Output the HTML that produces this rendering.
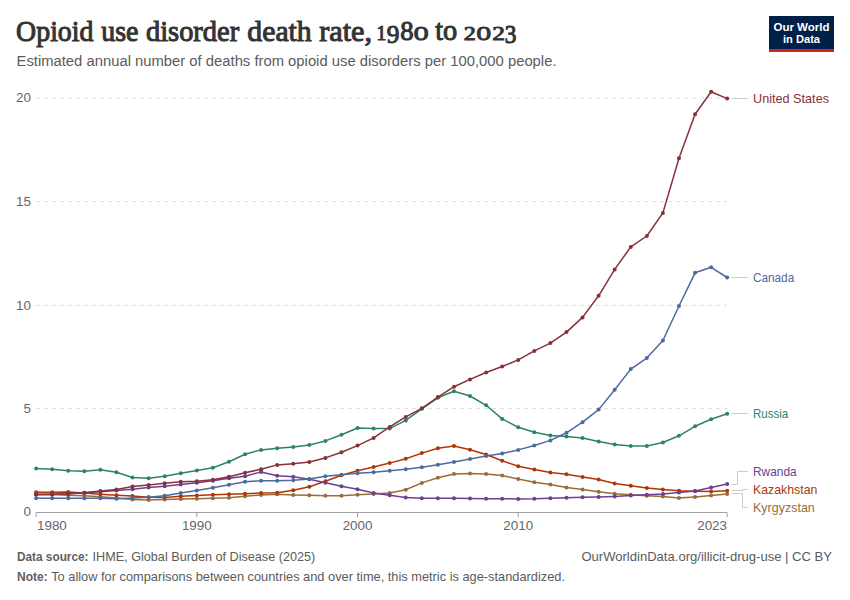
<!DOCTYPE html>
<html><head><meta charset="utf-8"><style>
html,body{margin:0;padding:0;background:#fff;}
body{width:850px;height:600px;overflow:hidden;position:relative;}
svg{position:absolute;left:0;top:0;}
text{font-family:"Liberation Sans",sans-serif;}
.ax{font-size:13.4px;fill:#666666;}
.lab{font-size:13.5px;}
.title{font-family:"Liberation Serif",serif;font-weight:normal;font-size:30px;fill:#333333;stroke:#333333;stroke-width:1px;}
.sub{font-size:14px;fill:#5b5b5b;}
.foot{font-size:13px;fill:#5b5b5b;}
.fb{font-weight:bold;fill:#5f5f5f;}
</style></head><body>
<svg width="850" height="600" viewBox="0 0 850 600">
<text class="title" style="stroke-width:1.04px" transform="matrix(0.9281 0 0 1 16.104 40.7)" x="0" y="0">Opioid</text><text class="title" style="stroke-width:1.04px" transform="matrix(0.9291 0 0 1 101.2 40.7)" x="0" y="0">use</text><text class="title" style="stroke-width:1.03px" transform="matrix(0.949 0 0 1 145.926 40.7)" x="0" y="0">disorder</text><text class="title" style="stroke-width:1.00px" transform="matrix(0.9922 0 0 1 247.304 40.7)" x="0" y="0">death</text><text class="title" style="stroke-width:1.00px" transform="matrix(1.0089 0 0 1 319.148 40.7)" x="0" y="0">rate,</text>
<text class="title" style="stroke-width:1.53px" transform="matrix(0.6435 0 0 0.6651 376.452 40.267)" x="0" y="0">1</text><text class="title" style="stroke-width:1.21px" transform="matrix(0.8436 0 0 0.8095 386.678 43.193)" x="0" y="0">9</text><text class="title" style="stroke-width:1.13px" transform="matrix(0.8889 0 0 0.88 400.133 39.94)" x="0" y="0">8</text><text class="title" style="stroke-width:1.04px" transform="matrix(1.0222 0 0 0.9049 413.433 39.921)" x="0" y="0">o</text><text class="title" style="stroke-width:1.05px" transform="matrix(0.9457 0 0 0.9639 435.236 39.877)" x="0" y="0">to</text><text class="title" style="stroke-width:1.39px" transform="matrix(0.8077 0 0 0.6313 463.794 39.584)" x="0" y="0">2</text><text class="title" style="stroke-width:1.05px" transform="matrix(1.0 0 0 0.9049 476.25 39.921)" x="0" y="0">o</text><text class="title" style="stroke-width:1.35px" transform="matrix(0.8462 0 0 0.6313 492.265 39.584)" x="0" y="0">2</text><text class="title" style="stroke-width:1.26px" transform="matrix(0.7774 0 0 0.8095 504.823 43.193)" x="0" y="0">3</text>
<text x="16.5" y="66.2" class="sub" textLength="540" lengthAdjust="spacingAndGlyphs">Estimated annual number of deaths from opioid use disorders per 100,000 people.</text>
<rect x="769" y="16" width="65" height="36" fill="#002147"/>
<rect x="769" y="49" width="65" height="3" fill="#ce261e"/>
<text x="801.5" y="31" text-anchor="middle" font-size="11.5" font-weight="bold" fill="#ffffff">Our World</text>
<text x="801.5" y="42.8" text-anchor="middle" font-size="11.5" font-weight="bold" fill="#ffffff" textLength="37" lengthAdjust="spacingAndGlyphs">in Data</text>
<line x1="36" y1="408.60" x2="727" y2="408.60" stroke="#dddddd" stroke-width="1" stroke-dasharray="4,4"/>
<text x="31" y="413.10" text-anchor="end" class="ax">5</text>
<line x1="36" y1="305.30" x2="727" y2="305.30" stroke="#dddddd" stroke-width="1" stroke-dasharray="4,4"/>
<text x="31" y="309.80" text-anchor="end" class="ax">10</text>
<line x1="36" y1="201.60" x2="727" y2="201.60" stroke="#dddddd" stroke-width="1" stroke-dasharray="4,4"/>
<text x="31" y="206.10" text-anchor="end" class="ax">15</text>
<line x1="36" y1="97.90" x2="727" y2="97.90" stroke="#dddddd" stroke-width="1" stroke-dasharray="4,4"/>
<text x="31" y="102.40" text-anchor="end" class="ax">20</text>
<text x="31" y="516.20" text-anchor="end" class="ax">0</text>
<line x1="36" y1="512.5" x2="727" y2="512.5" stroke="#a1a1a1" stroke-width="1"/>
<line x1="36.10" y1="512.5" x2="36.10" y2="517" stroke="#a1a1a1" stroke-width="1"/>
<line x1="196.82" y1="512.5" x2="196.82" y2="517" stroke="#a1a1a1" stroke-width="1"/>
<line x1="357.54" y1="512.5" x2="357.54" y2="517" stroke="#a1a1a1" stroke-width="1"/>
<line x1="518.26" y1="512.5" x2="518.26" y2="517" stroke="#a1a1a1" stroke-width="1"/>
<line x1="727.20" y1="512.5" x2="727.20" y2="517" stroke="#a1a1a1" stroke-width="1"/>
<text x="37" y="530.0" class="ax">1980</text>
<text x="196.82" y="530.0" text-anchor="middle" class="ax">1990</text>
<text x="357.54" y="530.0" text-anchor="middle" class="ax">2000</text>
<text x="518.26" y="530.0" text-anchor="middle" class="ax">2010</text>
<text x="727" y="530.0" text-anchor="end" class="ax">2023</text>
<polyline points="36.10,494.60 52.17,494.60 68.24,495.30 84.32,495.70 100.39,496.80 116.46,498.10 132.53,499.40 148.60,500.00 164.68,499.60 180.75,498.90 196.82,498.70 212.89,498.30 228.97,497.70 245.04,496.30 261.11,494.90 277.18,494.30 293.25,494.90 309.33,495.30 325.40,495.70 341.47,495.70 357.54,494.80 373.61,494.10 389.69,492.90 405.76,489.70 421.83,482.90 437.90,477.80 453.97,474.10 470.05,473.60 486.12,474.10 502.19,475.40 518.26,479.10 534.33,482.30 550.41,484.50 566.48,487.40 582.55,489.60 598.62,491.80 614.70,493.70 630.77,494.70 646.84,495.80 662.91,496.60 678.98,498.00 695.06,496.90 711.13,495.60 727.20,493.90" fill="none" stroke="#996D39" stroke-width="1.5" stroke-linejoin="round"/>
<circle cx="36.10" cy="494.60" r="2" fill="#996D39"/><circle cx="52.17" cy="494.60" r="2" fill="#996D39"/><circle cx="68.24" cy="495.30" r="2" fill="#996D39"/><circle cx="84.32" cy="495.70" r="2" fill="#996D39"/><circle cx="100.39" cy="496.80" r="2" fill="#996D39"/><circle cx="116.46" cy="498.10" r="2" fill="#996D39"/><circle cx="132.53" cy="499.40" r="2" fill="#996D39"/><circle cx="148.60" cy="500.00" r="2" fill="#996D39"/><circle cx="164.68" cy="499.60" r="2" fill="#996D39"/><circle cx="180.75" cy="498.90" r="2" fill="#996D39"/><circle cx="196.82" cy="498.70" r="2" fill="#996D39"/><circle cx="212.89" cy="498.30" r="2" fill="#996D39"/><circle cx="228.97" cy="497.70" r="2" fill="#996D39"/><circle cx="245.04" cy="496.30" r="2" fill="#996D39"/><circle cx="261.11" cy="494.90" r="2" fill="#996D39"/><circle cx="277.18" cy="494.30" r="2" fill="#996D39"/><circle cx="293.25" cy="494.90" r="2" fill="#996D39"/><circle cx="309.33" cy="495.30" r="2" fill="#996D39"/><circle cx="325.40" cy="495.70" r="2" fill="#996D39"/><circle cx="341.47" cy="495.70" r="2" fill="#996D39"/><circle cx="357.54" cy="494.80" r="2" fill="#996D39"/><circle cx="373.61" cy="494.10" r="2" fill="#996D39"/><circle cx="389.69" cy="492.90" r="2" fill="#996D39"/><circle cx="405.76" cy="489.70" r="2" fill="#996D39"/><circle cx="421.83" cy="482.90" r="2" fill="#996D39"/><circle cx="437.90" cy="477.80" r="2" fill="#996D39"/><circle cx="453.97" cy="474.10" r="2" fill="#996D39"/><circle cx="470.05" cy="473.60" r="2" fill="#996D39"/><circle cx="486.12" cy="474.10" r="2" fill="#996D39"/><circle cx="502.19" cy="475.40" r="2" fill="#996D39"/><circle cx="518.26" cy="479.10" r="2" fill="#996D39"/><circle cx="534.33" cy="482.30" r="2" fill="#996D39"/><circle cx="550.41" cy="484.50" r="2" fill="#996D39"/><circle cx="566.48" cy="487.40" r="2" fill="#996D39"/><circle cx="582.55" cy="489.60" r="2" fill="#996D39"/><circle cx="598.62" cy="491.80" r="2" fill="#996D39"/><circle cx="614.70" cy="493.70" r="2" fill="#996D39"/><circle cx="630.77" cy="494.70" r="2" fill="#996D39"/><circle cx="646.84" cy="495.80" r="2" fill="#996D39"/><circle cx="662.91" cy="496.60" r="2" fill="#996D39"/><circle cx="678.98" cy="498.00" r="2" fill="#996D39"/><circle cx="695.06" cy="496.90" r="2" fill="#996D39"/><circle cx="711.13" cy="495.60" r="2" fill="#996D39"/><circle cx="727.20" cy="493.90" r="2" fill="#996D39"/>
<polyline points="36.10,492.20 52.17,492.20 68.24,492.10 84.32,493.00 100.39,494.20 116.46,495.20 132.53,495.90 148.60,497.30 164.68,497.60 180.75,496.30 196.82,495.40 212.89,494.70 228.97,494.30 245.04,493.70 261.11,493.10 277.18,492.70 293.25,490.30 309.33,486.70 325.40,481.30 341.47,475.30 357.54,470.80 373.61,467.10 389.69,463.10 405.76,458.70 421.83,453.10 437.90,448.20 453.97,446.10 470.05,449.80 486.12,454.50 502.19,460.80 518.26,466.20 534.33,469.60 550.41,472.60 566.48,474.20 582.55,476.90 598.62,479.60 614.70,483.40 630.77,485.80 646.84,488.00 662.91,489.60 678.98,490.70 695.06,491.20 711.13,491.50 727.20,490.80" fill="none" stroke="#B13507" stroke-width="1.5" stroke-linejoin="round"/>
<circle cx="36.10" cy="492.20" r="2" fill="#B13507"/><circle cx="52.17" cy="492.20" r="2" fill="#B13507"/><circle cx="68.24" cy="492.10" r="2" fill="#B13507"/><circle cx="84.32" cy="493.00" r="2" fill="#B13507"/><circle cx="100.39" cy="494.20" r="2" fill="#B13507"/><circle cx="116.46" cy="495.20" r="2" fill="#B13507"/><circle cx="132.53" cy="495.90" r="2" fill="#B13507"/><circle cx="148.60" cy="497.30" r="2" fill="#B13507"/><circle cx="164.68" cy="497.60" r="2" fill="#B13507"/><circle cx="180.75" cy="496.30" r="2" fill="#B13507"/><circle cx="196.82" cy="495.40" r="2" fill="#B13507"/><circle cx="212.89" cy="494.70" r="2" fill="#B13507"/><circle cx="228.97" cy="494.30" r="2" fill="#B13507"/><circle cx="245.04" cy="493.70" r="2" fill="#B13507"/><circle cx="261.11" cy="493.10" r="2" fill="#B13507"/><circle cx="277.18" cy="492.70" r="2" fill="#B13507"/><circle cx="293.25" cy="490.30" r="2" fill="#B13507"/><circle cx="309.33" cy="486.70" r="2" fill="#B13507"/><circle cx="325.40" cy="481.30" r="2" fill="#B13507"/><circle cx="341.47" cy="475.30" r="2" fill="#B13507"/><circle cx="357.54" cy="470.80" r="2" fill="#B13507"/><circle cx="373.61" cy="467.10" r="2" fill="#B13507"/><circle cx="389.69" cy="463.10" r="2" fill="#B13507"/><circle cx="405.76" cy="458.70" r="2" fill="#B13507"/><circle cx="421.83" cy="453.10" r="2" fill="#B13507"/><circle cx="437.90" cy="448.20" r="2" fill="#B13507"/><circle cx="453.97" cy="446.10" r="2" fill="#B13507"/><circle cx="470.05" cy="449.80" r="2" fill="#B13507"/><circle cx="486.12" cy="454.50" r="2" fill="#B13507"/><circle cx="502.19" cy="460.80" r="2" fill="#B13507"/><circle cx="518.26" cy="466.20" r="2" fill="#B13507"/><circle cx="534.33" cy="469.60" r="2" fill="#B13507"/><circle cx="550.41" cy="472.60" r="2" fill="#B13507"/><circle cx="566.48" cy="474.20" r="2" fill="#B13507"/><circle cx="582.55" cy="476.90" r="2" fill="#B13507"/><circle cx="598.62" cy="479.60" r="2" fill="#B13507"/><circle cx="614.70" cy="483.40" r="2" fill="#B13507"/><circle cx="630.77" cy="485.80" r="2" fill="#B13507"/><circle cx="646.84" cy="488.00" r="2" fill="#B13507"/><circle cx="662.91" cy="489.60" r="2" fill="#B13507"/><circle cx="678.98" cy="490.70" r="2" fill="#B13507"/><circle cx="695.06" cy="491.20" r="2" fill="#B13507"/><circle cx="711.13" cy="491.50" r="2" fill="#B13507"/><circle cx="727.20" cy="490.80" r="2" fill="#B13507"/>
<polyline points="36.10,494.60 52.17,494.30 68.24,493.80 84.32,492.80 100.39,491.80 116.46,490.60 132.53,489.20 148.60,487.60 164.68,486.20 180.75,484.60 196.82,482.80 212.89,480.70 228.97,478.30 245.04,476.30 261.11,471.90 277.18,475.70 293.25,476.70 309.33,479.30 325.40,482.70 341.47,486.30 357.54,489.30 373.61,492.90 389.69,495.30 405.76,497.40 421.83,498.30 437.90,498.30 453.97,498.30 470.05,498.50 486.12,498.80 502.19,498.80 518.26,498.90 534.33,498.80 550.41,498.30 566.48,497.70 582.55,497.20 598.62,496.90 614.70,496.40 630.77,495.60 646.84,494.70 662.91,493.90 678.98,492.60 695.06,491.00 711.13,487.40 727.20,484.10" fill="none" stroke="#6D3E91" stroke-width="1.5" stroke-linejoin="round"/>
<circle cx="36.10" cy="494.60" r="2" fill="#6D3E91"/><circle cx="52.17" cy="494.30" r="2" fill="#6D3E91"/><circle cx="68.24" cy="493.80" r="2" fill="#6D3E91"/><circle cx="84.32" cy="492.80" r="2" fill="#6D3E91"/><circle cx="100.39" cy="491.80" r="2" fill="#6D3E91"/><circle cx="116.46" cy="490.60" r="2" fill="#6D3E91"/><circle cx="132.53" cy="489.20" r="2" fill="#6D3E91"/><circle cx="148.60" cy="487.60" r="2" fill="#6D3E91"/><circle cx="164.68" cy="486.20" r="2" fill="#6D3E91"/><circle cx="180.75" cy="484.60" r="2" fill="#6D3E91"/><circle cx="196.82" cy="482.80" r="2" fill="#6D3E91"/><circle cx="212.89" cy="480.70" r="2" fill="#6D3E91"/><circle cx="228.97" cy="478.30" r="2" fill="#6D3E91"/><circle cx="245.04" cy="476.30" r="2" fill="#6D3E91"/><circle cx="261.11" cy="471.90" r="2" fill="#6D3E91"/><circle cx="277.18" cy="475.70" r="2" fill="#6D3E91"/><circle cx="293.25" cy="476.70" r="2" fill="#6D3E91"/><circle cx="309.33" cy="479.30" r="2" fill="#6D3E91"/><circle cx="325.40" cy="482.70" r="2" fill="#6D3E91"/><circle cx="341.47" cy="486.30" r="2" fill="#6D3E91"/><circle cx="357.54" cy="489.30" r="2" fill="#6D3E91"/><circle cx="373.61" cy="492.90" r="2" fill="#6D3E91"/><circle cx="389.69" cy="495.30" r="2" fill="#6D3E91"/><circle cx="405.76" cy="497.40" r="2" fill="#6D3E91"/><circle cx="421.83" cy="498.30" r="2" fill="#6D3E91"/><circle cx="437.90" cy="498.30" r="2" fill="#6D3E91"/><circle cx="453.97" cy="498.30" r="2" fill="#6D3E91"/><circle cx="470.05" cy="498.50" r="2" fill="#6D3E91"/><circle cx="486.12" cy="498.80" r="2" fill="#6D3E91"/><circle cx="502.19" cy="498.80" r="2" fill="#6D3E91"/><circle cx="518.26" cy="498.90" r="2" fill="#6D3E91"/><circle cx="534.33" cy="498.80" r="2" fill="#6D3E91"/><circle cx="550.41" cy="498.30" r="2" fill="#6D3E91"/><circle cx="566.48" cy="497.70" r="2" fill="#6D3E91"/><circle cx="582.55" cy="497.20" r="2" fill="#6D3E91"/><circle cx="598.62" cy="496.90" r="2" fill="#6D3E91"/><circle cx="614.70" cy="496.40" r="2" fill="#6D3E91"/><circle cx="630.77" cy="495.60" r="2" fill="#6D3E91"/><circle cx="646.84" cy="494.70" r="2" fill="#6D3E91"/><circle cx="662.91" cy="493.90" r="2" fill="#6D3E91"/><circle cx="678.98" cy="492.60" r="2" fill="#6D3E91"/><circle cx="695.06" cy="491.00" r="2" fill="#6D3E91"/><circle cx="711.13" cy="487.40" r="2" fill="#6D3E91"/><circle cx="727.20" cy="484.10" r="2" fill="#6D3E91"/>
<polyline points="36.10,468.60 52.17,469.20 68.24,470.80 84.32,471.30 100.39,469.80 116.46,472.20 132.53,477.50 148.60,478.20 164.68,476.30 180.75,473.30 196.82,470.50 212.89,467.70 228.97,461.70 245.04,454.30 261.11,449.90 277.18,448.30 293.25,446.90 309.33,444.90 325.40,440.90 341.47,434.70 357.54,428.00 373.61,428.60 389.69,428.60 405.76,420.40 421.83,408.80 437.90,397.80 453.97,391.30 470.05,396.00 486.12,405.30 502.19,418.90 518.26,427.30 534.33,432.20 550.41,435.50 566.48,436.60 582.55,437.90 598.62,441.40 614.70,444.40 630.77,446.00 646.84,446.00 662.91,442.50 678.98,435.80 695.06,426.30 711.13,419.30 727.20,413.80" fill="none" stroke="#2C8465" stroke-width="1.5" stroke-linejoin="round"/>
<circle cx="36.10" cy="468.60" r="2" fill="#2C8465"/><circle cx="52.17" cy="469.20" r="2" fill="#2C8465"/><circle cx="68.24" cy="470.80" r="2" fill="#2C8465"/><circle cx="84.32" cy="471.30" r="2" fill="#2C8465"/><circle cx="100.39" cy="469.80" r="2" fill="#2C8465"/><circle cx="116.46" cy="472.20" r="2" fill="#2C8465"/><circle cx="132.53" cy="477.50" r="2" fill="#2C8465"/><circle cx="148.60" cy="478.20" r="2" fill="#2C8465"/><circle cx="164.68" cy="476.30" r="2" fill="#2C8465"/><circle cx="180.75" cy="473.30" r="2" fill="#2C8465"/><circle cx="196.82" cy="470.50" r="2" fill="#2C8465"/><circle cx="212.89" cy="467.70" r="2" fill="#2C8465"/><circle cx="228.97" cy="461.70" r="2" fill="#2C8465"/><circle cx="245.04" cy="454.30" r="2" fill="#2C8465"/><circle cx="261.11" cy="449.90" r="2" fill="#2C8465"/><circle cx="277.18" cy="448.30" r="2" fill="#2C8465"/><circle cx="293.25" cy="446.90" r="2" fill="#2C8465"/><circle cx="309.33" cy="444.90" r="2" fill="#2C8465"/><circle cx="325.40" cy="440.90" r="2" fill="#2C8465"/><circle cx="341.47" cy="434.70" r="2" fill="#2C8465"/><circle cx="357.54" cy="428.00" r="2" fill="#2C8465"/><circle cx="373.61" cy="428.60" r="2" fill="#2C8465"/><circle cx="389.69" cy="428.60" r="2" fill="#2C8465"/><circle cx="405.76" cy="420.40" r="2" fill="#2C8465"/><circle cx="421.83" cy="408.80" r="2" fill="#2C8465"/><circle cx="437.90" cy="397.80" r="2" fill="#2C8465"/><circle cx="453.97" cy="391.30" r="2" fill="#2C8465"/><circle cx="470.05" cy="396.00" r="2" fill="#2C8465"/><circle cx="486.12" cy="405.30" r="2" fill="#2C8465"/><circle cx="502.19" cy="418.90" r="2" fill="#2C8465"/><circle cx="518.26" cy="427.30" r="2" fill="#2C8465"/><circle cx="534.33" cy="432.20" r="2" fill="#2C8465"/><circle cx="550.41" cy="435.50" r="2" fill="#2C8465"/><circle cx="566.48" cy="436.60" r="2" fill="#2C8465"/><circle cx="582.55" cy="437.90" r="2" fill="#2C8465"/><circle cx="598.62" cy="441.40" r="2" fill="#2C8465"/><circle cx="614.70" cy="444.40" r="2" fill="#2C8465"/><circle cx="630.77" cy="446.00" r="2" fill="#2C8465"/><circle cx="646.84" cy="446.00" r="2" fill="#2C8465"/><circle cx="662.91" cy="442.50" r="2" fill="#2C8465"/><circle cx="678.98" cy="435.80" r="2" fill="#2C8465"/><circle cx="695.06" cy="426.30" r="2" fill="#2C8465"/><circle cx="711.13" cy="419.30" r="2" fill="#2C8465"/><circle cx="727.20" cy="413.80" r="2" fill="#2C8465"/>
<polyline points="36.10,498.20 52.17,498.20 68.24,498.20 84.32,498.20 100.39,498.30 116.46,498.70 132.53,498.10 148.60,497.30 164.68,495.70 180.75,493.10 196.82,490.60 212.89,487.70 228.97,484.70 245.04,481.70 261.11,480.70 277.18,480.70 293.25,480.30 309.33,478.90 325.40,476.30 341.47,474.70 357.54,473.20 373.61,472.20 389.69,470.80 405.76,469.20 421.83,467.30 437.90,464.70 453.97,461.90 470.05,458.90 486.12,456.10 502.19,453.50 518.26,449.90 534.33,445.50 550.41,440.40 566.48,432.80 582.55,422.20 598.62,409.60 614.70,389.80 630.77,369.10 646.84,358.05 662.91,340.55 678.98,306.05 695.06,272.80 711.13,267.30 727.20,277.50" fill="none" stroke="#4C6A9C" stroke-width="1.5" stroke-linejoin="round"/>
<circle cx="36.10" cy="498.20" r="2" fill="#4C6A9C"/><circle cx="52.17" cy="498.20" r="2" fill="#4C6A9C"/><circle cx="68.24" cy="498.20" r="2" fill="#4C6A9C"/><circle cx="84.32" cy="498.20" r="2" fill="#4C6A9C"/><circle cx="100.39" cy="498.30" r="2" fill="#4C6A9C"/><circle cx="116.46" cy="498.70" r="2" fill="#4C6A9C"/><circle cx="132.53" cy="498.10" r="2" fill="#4C6A9C"/><circle cx="148.60" cy="497.30" r="2" fill="#4C6A9C"/><circle cx="164.68" cy="495.70" r="2" fill="#4C6A9C"/><circle cx="180.75" cy="493.10" r="2" fill="#4C6A9C"/><circle cx="196.82" cy="490.60" r="2" fill="#4C6A9C"/><circle cx="212.89" cy="487.70" r="2" fill="#4C6A9C"/><circle cx="228.97" cy="484.70" r="2" fill="#4C6A9C"/><circle cx="245.04" cy="481.70" r="2" fill="#4C6A9C"/><circle cx="261.11" cy="480.70" r="2" fill="#4C6A9C"/><circle cx="277.18" cy="480.70" r="2" fill="#4C6A9C"/><circle cx="293.25" cy="480.30" r="2" fill="#4C6A9C"/><circle cx="309.33" cy="478.90" r="2" fill="#4C6A9C"/><circle cx="325.40" cy="476.30" r="2" fill="#4C6A9C"/><circle cx="341.47" cy="474.70" r="2" fill="#4C6A9C"/><circle cx="357.54" cy="473.20" r="2" fill="#4C6A9C"/><circle cx="373.61" cy="472.20" r="2" fill="#4C6A9C"/><circle cx="389.69" cy="470.80" r="2" fill="#4C6A9C"/><circle cx="405.76" cy="469.20" r="2" fill="#4C6A9C"/><circle cx="421.83" cy="467.30" r="2" fill="#4C6A9C"/><circle cx="437.90" cy="464.70" r="2" fill="#4C6A9C"/><circle cx="453.97" cy="461.90" r="2" fill="#4C6A9C"/><circle cx="470.05" cy="458.90" r="2" fill="#4C6A9C"/><circle cx="486.12" cy="456.10" r="2" fill="#4C6A9C"/><circle cx="502.19" cy="453.50" r="2" fill="#4C6A9C"/><circle cx="518.26" cy="449.90" r="2" fill="#4C6A9C"/><circle cx="534.33" cy="445.50" r="2" fill="#4C6A9C"/><circle cx="550.41" cy="440.40" r="2" fill="#4C6A9C"/><circle cx="566.48" cy="432.80" r="2" fill="#4C6A9C"/><circle cx="582.55" cy="422.20" r="2" fill="#4C6A9C"/><circle cx="598.62" cy="409.60" r="2" fill="#4C6A9C"/><circle cx="614.70" cy="389.80" r="2" fill="#4C6A9C"/><circle cx="630.77" cy="369.10" r="2" fill="#4C6A9C"/><circle cx="646.84" cy="358.05" r="2" fill="#4C6A9C"/><circle cx="662.91" cy="340.55" r="2" fill="#4C6A9C"/><circle cx="678.98" cy="306.05" r="2" fill="#4C6A9C"/><circle cx="695.06" cy="272.80" r="2" fill="#4C6A9C"/><circle cx="711.13" cy="267.30" r="2" fill="#4C6A9C"/><circle cx="727.20" cy="277.50" r="2" fill="#4C6A9C"/>
<polyline points="36.10,494.50 52.17,494.40 68.24,493.80 84.32,492.80 100.39,490.90 116.46,489.40 132.53,486.50 148.60,484.90 164.68,483.20 180.75,481.70 196.82,481.30 212.89,479.70 228.97,476.70 245.04,472.70 261.11,469.30 277.18,464.90 293.25,463.70 309.33,461.90 325.40,457.90 341.47,452.30 357.54,445.60 373.61,437.90 389.69,426.90 405.76,416.90 421.83,408.30 437.90,397.10 453.97,386.70 470.05,379.40 486.12,372.50 502.19,366.50 518.26,359.90 534.33,350.90 550.41,343.10 566.48,332.10 582.55,317.40 598.62,295.80 614.70,269.40 630.77,246.90 646.84,236.00 662.91,212.90 678.98,158.30 695.06,114.20 711.13,91.70 727.20,98.60" fill="none" stroke="#883039" stroke-width="1.5" stroke-linejoin="round"/>
<circle cx="36.10" cy="494.50" r="2" fill="#883039"/><circle cx="52.17" cy="494.40" r="2" fill="#883039"/><circle cx="68.24" cy="493.80" r="2" fill="#883039"/><circle cx="84.32" cy="492.80" r="2" fill="#883039"/><circle cx="100.39" cy="490.90" r="2" fill="#883039"/><circle cx="116.46" cy="489.40" r="2" fill="#883039"/><circle cx="132.53" cy="486.50" r="2" fill="#883039"/><circle cx="148.60" cy="484.90" r="2" fill="#883039"/><circle cx="164.68" cy="483.20" r="2" fill="#883039"/><circle cx="180.75" cy="481.70" r="2" fill="#883039"/><circle cx="196.82" cy="481.30" r="2" fill="#883039"/><circle cx="212.89" cy="479.70" r="2" fill="#883039"/><circle cx="228.97" cy="476.70" r="2" fill="#883039"/><circle cx="245.04" cy="472.70" r="2" fill="#883039"/><circle cx="261.11" cy="469.30" r="2" fill="#883039"/><circle cx="277.18" cy="464.90" r="2" fill="#883039"/><circle cx="293.25" cy="463.70" r="2" fill="#883039"/><circle cx="309.33" cy="461.90" r="2" fill="#883039"/><circle cx="325.40" cy="457.90" r="2" fill="#883039"/><circle cx="341.47" cy="452.30" r="2" fill="#883039"/><circle cx="357.54" cy="445.60" r="2" fill="#883039"/><circle cx="373.61" cy="437.90" r="2" fill="#883039"/><circle cx="389.69" cy="426.90" r="2" fill="#883039"/><circle cx="405.76" cy="416.90" r="2" fill="#883039"/><circle cx="421.83" cy="408.30" r="2" fill="#883039"/><circle cx="437.90" cy="397.10" r="2" fill="#883039"/><circle cx="453.97" cy="386.70" r="2" fill="#883039"/><circle cx="470.05" cy="379.40" r="2" fill="#883039"/><circle cx="486.12" cy="372.50" r="2" fill="#883039"/><circle cx="502.19" cy="366.50" r="2" fill="#883039"/><circle cx="518.26" cy="359.90" r="2" fill="#883039"/><circle cx="534.33" cy="350.90" r="2" fill="#883039"/><circle cx="550.41" cy="343.10" r="2" fill="#883039"/><circle cx="566.48" cy="332.10" r="2" fill="#883039"/><circle cx="582.55" cy="317.40" r="2" fill="#883039"/><circle cx="598.62" cy="295.80" r="2" fill="#883039"/><circle cx="614.70" cy="269.40" r="2" fill="#883039"/><circle cx="630.77" cy="246.90" r="2" fill="#883039"/><circle cx="646.84" cy="236.00" r="2" fill="#883039"/><circle cx="662.91" cy="212.90" r="2" fill="#883039"/><circle cx="678.98" cy="158.30" r="2" fill="#883039"/><circle cx="695.06" cy="114.20" r="2" fill="#883039"/><circle cx="711.13" cy="91.70" r="2" fill="#883039"/><circle cx="727.20" cy="98.60" r="2" fill="#883039"/>
<polyline points="731.5,98.5 748,98.5" fill="none" stroke="#cccccc" stroke-width="1"/>
<polyline points="731.5,277.5 748,277.5" fill="none" stroke="#cccccc" stroke-width="1"/>
<polyline points="731.5,413.5 748,413.5" fill="none" stroke="#cccccc" stroke-width="1"/>
<polyline points="731.5,484.5 737.5,484.5 737.5,471.5 748,471.5" fill="none" stroke="#cccccc" stroke-width="1"/>
<polyline points="731.5,490.5 742.5,490.5 742.5,489.5 748,489.5" fill="none" stroke="#cccccc" stroke-width="1"/>
<polyline points="731.5,493.5 742.5,493.5 742.5,507.5 748,507.5" fill="none" stroke="#cccccc" stroke-width="1"/>
<text x="753" y="103.2" class="lab" fill="#883039" textLength="76" lengthAdjust="spacingAndGlyphs">United States</text>
<text x="753" y="282.1" class="lab" fill="#4C6A9C" textLength="41.2" lengthAdjust="spacingAndGlyphs">Canada</text>
<text x="753" y="418.3" class="lab" fill="#2C8465" textLength="35.2" lengthAdjust="spacingAndGlyphs">Russia</text>
<text x="753" y="475.6" class="lab" fill="#6D3E91" textLength="43.6" lengthAdjust="spacingAndGlyphs">Rwanda</text>
<text x="753" y="494.0" class="lab" fill="#B13507" textLength="64.4" lengthAdjust="spacingAndGlyphs">Kazakhstan</text>
<text x="753" y="512.0" class="lab" fill="#996D39" textLength="61.8" lengthAdjust="spacingAndGlyphs">Kyrgyzstan</text>

<text x="17" y="560.8" class="foot fb" textLength="71.5" lengthAdjust="spacingAndGlyphs">Data source:</text>
<text x="92.5" y="560.8" class="foot" textLength="222.8" lengthAdjust="spacingAndGlyphs">IHME, Global Burden of Disease (2025)</text>
<text x="832" y="560.8" class="foot" text-anchor="end" textLength="250.6" lengthAdjust="spacingAndGlyphs">OurWorldinData.org/illicit-drug-use | CC BY</text>
<text x="17" y="580.8" class="foot fb" textLength="30.8" lengthAdjust="spacingAndGlyphs">Note:</text>
<text x="51.2" y="580.8" class="foot" textLength="513.8" lengthAdjust="spacingAndGlyphs">To allow for comparisons between countries and over time, this metric is age-standardized.</text>
</svg>
</body></html>
